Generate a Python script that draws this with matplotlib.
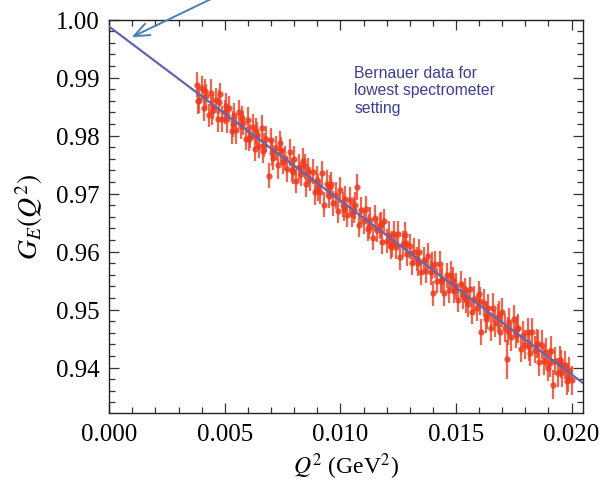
import matplotlib
matplotlib.use("Agg")
import matplotlib.pyplot as plt
from matplotlib.ticker import MultipleLocator, FixedLocator, FixedFormatter

plt.rcParams['mathtext.fontset'] = 'stix'

# ---- data ----
q2 = [0.0038, 0.0039, 0.0040, 0.0041, 0.0042, 0.0043, 0.0044, 0.0045, 0.0046, 0.0047,
      0.0048, 0.0049, 0.0050, 0.0051, 0.0052, 0.0053, 0.0054, 0.0055, 0.0056, 0.0057,
      0.0058, 0.0059, 0.0060, 0.0061, 0.0062, 0.0063, 0.0064, 0.0065, 0.0066, 0.0067,
      0.0068, 0.0069, 0.0070, 0.0071, 0.0072, 0.0073, 0.0074, 0.0075, 0.0076, 0.0077,
      0.0078, 0.0079, 0.0080, 0.0081, 0.0082, 0.0083, 0.0084, 0.0085, 0.0086, 0.0087,
      0.0088, 0.0089, 0.0090, 0.0091, 0.0092, 0.0093, 0.0094, 0.0095, 0.0096, 0.0097,
      0.0098, 0.0099, 0.0100, 0.0101, 0.0102, 0.0103, 0.0104, 0.0105, 0.0106, 0.0107,
      0.0108, 0.0109, 0.0110, 0.0111, 0.0112, 0.0113, 0.0114, 0.0115, 0.0116, 0.0117,
      0.0118, 0.0119, 0.0120, 0.0121, 0.0122, 0.0123, 0.0124, 0.0125, 0.0126, 0.0127,
      0.0128, 0.0129, 0.0130, 0.0131, 0.0132, 0.0133, 0.0134, 0.0135, 0.0136, 0.0137,
      0.0138, 0.0139, 0.0140, 0.0141, 0.0142, 0.0143, 0.0144, 0.0145, 0.0146, 0.0147,
      0.0148, 0.0149, 0.0150, 0.0151, 0.0152, 0.0153, 0.0154, 0.0155, 0.0156, 0.0157,
      0.0158, 0.0159, 0.0160, 0.0161, 0.0162, 0.0163, 0.0164, 0.0165, 0.0166, 0.0167,
      0.0168, 0.0169, 0.0170, 0.0171, 0.0172, 0.0173, 0.0174, 0.0175, 0.0176, 0.0177,
      0.0178, 0.0179, 0.0180, 0.0181, 0.0182, 0.0183, 0.0184, 0.0185, 0.0186, 0.0187,
      0.0188, 0.0189, 0.0190, 0.0191, 0.0192, 0.0193, 0.0194, 0.0195, 0.0196, 0.0197,
      0.0198, 0.0199, 0.0200,
      0.00385, 0.00415, 0.00445, 0.00475, 0.00505, 0.00535, 0.00575, 0.00605, 0.00635,
      0.00665, 0.00705, 0.00745, 0.00795, 0.00845, 0.00905, 0.00955, 0.01015, 0.01065,
      0.01125, 0.01175, 0.01225, 0.01285, 0.01335, 0.01395, 0.01435, 0.01485, 0.01545,
      0.01605, 0.01635, 0.01685, 0.01725, 0.01765, 0.01815, 0.01855, 0.01905, 0.01955,
      0.01985]
ge = [0.9888, 0.9862, 0.9883, 0.9848, 0.9868, 0.9835, 0.9874, 0.9849, 0.9861, 0.9828,
      0.9871, 0.9829, 0.9841, 0.9828, 0.9848, 0.9808, 0.9835, 0.9809, 0.9840, 0.9816,
      0.9822, 0.9795, 0.9827, 0.9799, 0.9815, 0.9777, 0.9801, 0.9782, 0.9814, 0.9784,
      0.9794, 0.9731, 0.9793, 0.9762, 0.9779, 0.9749, 0.9787, 0.9755, 0.9762, 0.9742,
      0.9771, 0.9741, 0.9760, 0.9722, 0.9746, 0.9734, 0.9756, 0.9716, 0.9739, 0.9725,
      0.9738, 0.9702, 0.9724, 0.9703, 0.9735, 0.9681, 0.9717, 0.9696, 0.9716, 0.9683,
      0.9697, 0.9670, 0.9706, 0.9681, 0.9690, 0.9663, 0.9689, 0.9664, 0.9672, 0.9711,
      0.9646, 0.9671, 0.9652, 0.9674, 0.9639, 0.9654, 0.9624, 0.9658, 0.9637, 0.9644,
      0.9617, 0.9652, 0.9618, 0.9629, 0.9608, 0.9631, 0.9608, 0.9630, 0.9590, 0.9613,
      0.9628, 0.9596, 0.9609, 0.9580, 0.9600, 0.9587, 0.9600, 0.9564, 0.9585, 0.9566,
      0.9592, 0.9564, 0.9528, 0.9578, 0.9550, 0.9579, 0.9552, 0.9529, 0.9559, 0.9533,
      0.9560, 0.9532, 0.9541, 0.9517, 0.9544, 0.9523, 0.9533, 0.9510, 0.9535, 0.9496,
      0.9518, 0.9503, 0.9527, 0.9461, 0.9512, 0.9483, 0.9502, 0.9468, 0.9503, 0.9476,
      0.9486, 0.9462, 0.9495, 0.9468, 0.9414, 0.9478, 0.9452, 0.9483, 0.9457, 0.9468,
      0.9432, 0.9457, 0.9439, 0.9461, 0.9425, 0.9461, 0.9431, 0.9441, 0.9410, 0.9439,
      0.9412, 0.9426, 0.9400, 0.9429, 0.9370, 0.9412, 0.9391, 0.9413, 0.9392, 0.9404,
      0.9377, 0.9395, 0.9378,
      0.9860, 0.9877, 0.9842, 0.9858, 0.9852, 0.9820, 0.9830, 0.9795, 0.9808,
      0.9773, 0.9770, 0.9775, 0.9738, 0.9747, 0.9710, 0.9711, 0.9674, 0.9680,
      0.9643, 0.9647, 0.9613, 0.9614, 0.9580, 0.9576, 0.9549, 0.9551, 0.9517,
      0.9515, 0.9490, 0.9490, 0.9463, 0.9466, 0.9436, 0.9440, 0.9408, 0.9406,
      0.9383]
err = [0.0021, 0.0023, 0.0020, 0.0022, 0.0021, 0.0020, 0.0023, 0.0021, 0.0022, 0.0021,
       0.0020, 0.0022, 0.0021, 0.0023, 0.0020, 0.0022, 0.0021, 0.0023, 0.0021, 0.0022,
       0.0021, 0.0020, 0.0023, 0.0021, 0.0022, 0.0021, 0.0023, 0.0021, 0.0022, 0.0021,
       0.0022, 0.0022, 0.0021, 0.0022, 0.0021, 0.0023, 0.0021, 0.0022, 0.0021, 0.0022,
       0.0023, 0.0021, 0.0022, 0.0021, 0.0023, 0.0021, 0.0022, 0.0021, 0.0023, 0.0021,
       0.0022, 0.0021, 0.0023, 0.0021, 0.0022, 0.0021, 0.0023, 0.0021, 0.0022, 0.0021,
       0.0023, 0.0021, 0.0022, 0.0021, 0.0023, 0.0021, 0.0022, 0.0021, 0.0023, 0.0022,
       0.0021, 0.0023, 0.0021, 0.0022, 0.0021, 0.0023, 0.0021, 0.0022, 0.0021, 0.0023,
       0.0021, 0.0022, 0.0021, 0.0023, 0.0021, 0.0022, 0.0021, 0.0023, 0.0021, 0.0022,
       0.0023, 0.0021, 0.0022, 0.0021, 0.0023, 0.0021, 0.0022, 0.0021, 0.0023, 0.0021,
       0.0022, 0.0021, 0.0022, 0.0023, 0.0021, 0.0022, 0.0021, 0.0023, 0.0022, 0.0021,
       0.0023, 0.0021, 0.0022, 0.0021, 0.0023, 0.0022, 0.0021, 0.0023, 0.0022, 0.0021,
       0.0023, 0.0022, 0.0023, 0.0022, 0.0024, 0.0023, 0.0024, 0.0023, 0.0025, 0.0023,
       0.0024, 0.0023, 0.0025, 0.0024, 0.0033, 0.0024, 0.0023, 0.0025, 0.0024, 0.0025,
       0.0023, 0.0024, 0.0025, 0.0024, 0.0023, 0.0025, 0.0024, 0.0025, 0.0024, 0.0025,
       0.0024, 0.0025, 0.0024, 0.0025, 0.0025, 0.0024, 0.0025, 0.0024, 0.0025, 0.0024,
       0.0025, 0.0024, 0.0025,
       0.0022, 0.0021, 0.0023, 0.0021, 0.0022, 0.0023, 0.0021, 0.0022, 0.0023,
       0.0021, 0.0022, 0.0023, 0.0021, 0.0022, 0.0023, 0.0021, 0.0022, 0.0023,
       0.0021, 0.0022, 0.0023, 0.0021, 0.0022, 0.0023, 0.0021, 0.0022, 0.0023,
       0.0024, 0.0023, 0.0025, 0.0024, 0.0023, 0.0025, 0.0024, 0.0025, 0.0024,
       0.0025]

# fit curve
fit_q2 = [0.0, 0.005, 0.010, 0.015, 0.0205]
fit_ge = [0.9988, 0.9838, 0.9688, 0.9538, 0.9373]

x_ticks = [0.000, 0.005, 0.010, 0.015, 0.020]
x_ticklabels = ["0.000", "0.005", "0.010", "0.015", "0.020"]
y_ticks = [0.94, 0.95, 0.96, 0.97, 0.98, 0.99, 1.00]
y_ticklabels = ["0.94", "0.95", "0.96", "0.97", "0.98", "0.99", "1.00"]

annotation = "Bernauer data for\nlowest spectrometer\nsetting"

# ---- figure ----
fig = plt.figure(figsize=(6.05, 4.85), dpi=100)
ax = fig.add_axes([0.1805, 0.1464, 0.7826, 0.8109])

ax.errorbar(q2, ge, yerr=err, fmt='o', color='#ee3b1f', ms=4.5, mew=0,
            ecolor='#f0492c', elinewidth=1.6, capsize=3.8, capthick=1.4, alpha=0.85,
            zorder=2)
ax.plot(fit_q2, fit_ge, color='#6266b0', lw=1.6, zorder=3)

ax.set_xlim(0.0, 0.02048)
ax.set_ylim(0.93216, 1.0)

ax.xaxis.set_major_locator(FixedLocator(x_ticks))
ax.xaxis.set_major_formatter(FixedFormatter(x_ticklabels))
ax.xaxis.set_minor_locator(MultipleLocator(0.001))
ax.yaxis.set_major_locator(FixedLocator(y_ticks))
ax.yaxis.set_major_formatter(FixedFormatter(y_ticklabels))
ax.yaxis.set_minor_locator(MultipleLocator(0.002))

ax.tick_params(which='both', direction='in', top=True, right=True,
               color='#333333', width=0.9)
ax.tick_params(which='major', length=7, pad=7)
ax.tick_params(which='minor', length=4)
for lab in ax.get_xticklabels() + ax.get_yticklabels():
    lab.set_fontfamily('Liberation Serif')
    lab.set_fontsize(18)
for sp in ax.spines.values():
    sp.set_linewidth(1.0)
    sp.set_color('#222222')

ax.set_xlabel(r'$Q^2$ (GeV$^2$)', fontsize=17, family='Liberation Serif', labelpad=4)
ax.set_ylabel(r'$G_E(Q^2)$', fontsize=20, family='Liberation Serif', labelpad=8)

ax.text(0.518, 0.885, annotation, transform=ax.transAxes, ha='left', va='top',
        fontsize=11.3, family='Liberation Sans', color='#3c3c96', linespacing=1.2)

ax.annotate('', xy=(0.00097, 0.99698), xycoords='data',
            xytext=(236, 497), textcoords='figure pixels',
            arrowprops=dict(arrowstyle='->,head_length=1.1,head_width=0.45',
                            color='#4a7ebb', lw=1.4, shrinkA=0, shrinkB=0),
            annotation_clip=False)

fig.savefig('out.png', dpi=100)
